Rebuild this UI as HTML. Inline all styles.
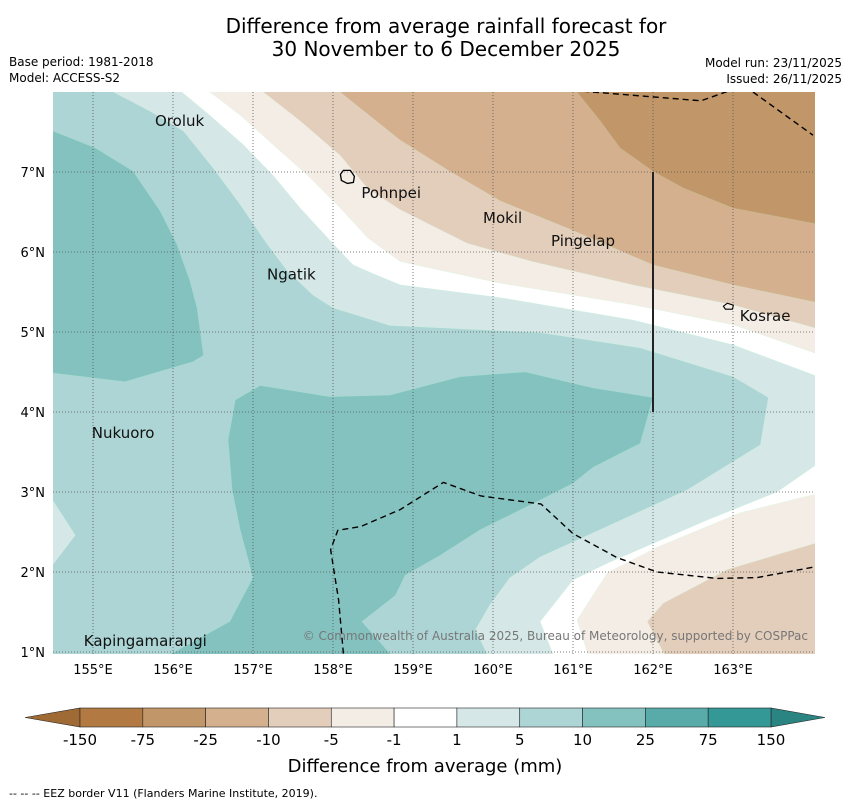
<!DOCTYPE html>
<html><head><meta charset="utf-8"><style>
body{margin:0;background:#fff;width:850px;height:804px;overflow:hidden;font-family:"Liberation Sans","DejaVu Sans",sans-serif}
</style></head><body>
<svg width="850" height="804" viewBox="0 0 850 804" style="font-family:'DejaVu Sans','Liberation Sans',sans-serif">
<text x="446" y="33" font-size="20" text-anchor="middle">Difference from average rainfall forecast for</text>
<text x="446" y="56" font-size="20" text-anchor="middle">30 November to 6 December 2025</text>
<text x="9" y="66" font-size="12">Base period: 1981-2018</text>
<text x="9" y="82" font-size="12">Model: ACCESS-S2</text>
<text x="842" y="67" font-size="12" text-anchor="end">Model run: 23/11/2025</text>
<text x="842" y="83" font-size="12" text-anchor="end">Issued: 26/11/2025</text>
<defs><clipPath id="mapclip"><rect x="53" y="92" width="762" height="562"/></clipPath></defs>
<g id="map" clip-path="url(#mapclip)"></g>
<g id="axes"></g>
<g id="cbar"></g>
<text x="425" y="772" font-size="18" text-anchor="middle">Difference from average (mm)</text>
<text x="9" y="797" font-size="11">--  --  -- EEZ border V11 (Flanders Marine Institute, 2019).</text>
</svg>
<script>
// ---- data ----
const colorLevels = ['-150','-75','-25','-10','-5','-1','1','5','10','25','75','150'];
const colorFills = ['#b27a42','#c19668','#d4b08e','#e3cebb','#f3ede6','#ffffff','#d5e8e7','#add5d5','#84c2c0','#58aba9','#339896'];
const lonTicks = [155,156,157,158,159,160,161,162,163];
const latTicks = [1,2,3,4,5,6,7];
// contour boundaries [lon,lat]
const b1 = [[155.25,8],[155.71,7.76],[156.13,7.51],[156.5,7.05],[156.84,6.59],[157.18,6.09],[157.43,5.76],[157.75,5.46],[158,5.3],[158.71,5.08],[160.59,4.99],[161.84,4.8],[163,4.44],[163.44,4.18],[163.34,3.59],[162.43,3.03],[160.59,2.19],[160.21,1.93],[159.96,1.59],[159.78,1.28],[159.96,0.9]];
const b2Upper = [[156.11,8],[156.46,7.71],[156.88,7.34],[157.25,6.96],[157.59,6.55],[157.93,6.18],[158.25,5.84],[158.55,5.71],[158.84,5.59],[160.09,5.43],[161.75,5.15],[163,4.84],[164.1,4.43]];
const b2Lower = [[164.1,3.38],[163.55,3],[162.68,2.65],[161.43,2.11],[161,1.9],[160.59,1.38],[160.78,0.9]];
const b3Upper = [[156.46,8],[156.84,7.71],[157.25,7.34],[157.68,6.96],[158.09,6.55],[158.43,6.18],[158.84,5.88],[160.09,5.61],[161.75,5.34],[163,5.09],[164.1,4.71]];
const b3Lower = [[164.1,2.99],[163.09,2.74],[162.05,2.31],[161.43,1.99],[161.05,1.4],[161.21,0.9]];
const b4Upper = [[157.13,8],[157.59,7.64],[158.09,7.21],[158.43,6.8],[158.84,6.53],[159.68,6.11],[160.5,5.88],[161.75,5.59],[163,5.34],[164.1,5.03]];
const b4Lower = [[164.1,2.38],[162.93,2.03],[162.13,1.61],[161.93,1.38],[162.18,0.9]];
const b5 = [[158.09,8],[158.84,7.4],[159.46,7.01],[160.09,6.64],[160.93,6.3],[162,5.84],[163,5.59],[164.1,5.36]];
const b6 = [[161.05,8],[161.34,7.64],[161.59,7.3],[162,7.01],[162.38,6.8],[163,6.55],[164.1,6.34]];
const wetLeft = [[154.4,7.55],[155.03,7.3],[155.5,7.01],[155.84,6.51],[156.05,6.09],[156.21,5.64],[156.3,5.3],[156.38,4.71],[156.25,4.63],[155.4,4.38],[154.4,4.5]];
const wetCentral = [[156.78,4.15],[157.09,4.33],[157.96,4.19],[158.71,4.21],[159.59,4.44],[160.4,4.5],[161.25,4.3],[162,4.18],[161.84,3.61],[161.25,3.31],[161,3.11],[160.59,2.9],[159.84,2.53],[159.34,2.21],[158.9,1.96],[158.78,1.71],[158.36,1.38],[158.78,0.9],[155.84,0.9],[156.71,1.38],[157,1.93],[156.84,2.53],[156.74,3.03],[156.69,3.65]];
const lightWest = [[154.4,3.05],[154.78,2.46],[154.4,1.96]];
const eezTop1 = [[161,8.02],[162.6,7.89],[163.05,8.05]];
const eezTop2 = [[163.25,8],[164,7.46]];
const eezBottom = [[158.13,0.98],[158.07,1.65],[157.97,2.28],[158.06,2.52],[158.35,2.57],[158.84,2.78],[159.38,3.12],[159.85,2.95],[160.6,2.85],[161,2.48],[161.55,2.18],[162.05,2],[162.8,1.92],[163.3,1.93],[164,2.06]];
const borderLine = [[162,7],[162,4]];
const islands = ['Oroluk','Pohnpei','Mokil','Pingelap','Ngatik','Kosrae','Nukuoro','Kapingamarangi'];
const islandLon = [155.75,158.33,159.85,160.7,157.15,163.06,154.96,154.86];
const islandLat = [7.7,6.8,6.49,6.2,5.78,5.26,3.8,1.2];

// ---- axes ----
const X = lon => 53 + (lon - 154.5) * 80;
const Y = lat => 92 + (8 - lat) * 80;
const NS = 'http://www.w3.org/2000/svg';
function mk(tag, attrs, parent){const e=document.createElementNS(NS,tag);for(const k in attrs)e.setAttribute(k,attrs[k]);parent.appendChild(e);return e;}
const pts = a => a.map(p => X(p[0]).toFixed(1)+','+Y(p[1]).toFixed(1)).join(' ');
const map = document.getElementById('map');
const TR=[164.1,8.1], BR=[164.1,0.9];
function poly(arr, fill, name){
  const e = mk('polygon',{points:pts(arr),fill:fill,stroke:'#9fb',"stroke-width":0.3,"stroke-opacity":0.4},map);
  
  
}
const bg = mk('rect',{x:53,y:92,width:762,height:562,fill:colorFills[7]},map);


poly(wetLeft, colorFills[8], 'contour-10-to-25-west');
poly(wetCentral, colorFills[8], 'contour-10-to-25-central');
poly(lightWest, colorFills[6], 'contour-1-to-5-west');
poly(b1.concat([BR,TR]), colorFills[6], 'contour-1-to-5');
poly(b2Upper.concat([TR]), colorFills[5], 'contour-neutral-north');
poly(b2Lower.concat([BR]), colorFills[5], 'contour-neutral-south');
poly(b3Upper.concat([TR]), colorFills[4], 'contour-minus5-to-minus1-north');
poly(b3Lower.concat([BR]), colorFills[4], 'contour-minus5-to-minus1-south');
poly(b4Upper.concat([TR]), colorFills[3], 'contour-minus10-to-minus5-north');
poly(b4Lower.concat([BR]), colorFills[3], 'contour-minus10-to-minus5-south');
poly(b5.concat([TR]), colorFills[2], 'contour-minus25-to-minus10');
poly(b6.concat([TR]), colorFills[1], 'contour-minus75-to-minus25');
// grid
lonTicks.forEach(l=>{const e=mk('line',{x1:X(l),x2:X(l),y1:92,y2:654,stroke:'#555',"stroke-width":0.8,"stroke-dasharray":"1,2"},map);

});
latTicks.forEach(l=>{const e=mk('line',{x1:53,x2:815,y1:Y(l),y2:Y(l),stroke:'#555',"stroke-width":0.8,"stroke-dasharray":"1,2"},map);

});
[eezTop1,eezTop2,eezBottom].forEach(a=>{const e=mk('polyline',{points:pts(a),fill:'none',stroke:'#000',"stroke-width":1.4,"stroke-dasharray":"6,4"},map);

});
const bl=mk('polyline',{points:pts(borderLine),fill:'none',stroke:'#222',"stroke-width":2},map);


// islands outlines
const pl=mk('path',{d:`M${X(158.13)} ${Y(7.02)} l-3 4 l1 6 l6 3 l6 -1 l1 -6 l-4 -6 z`,fill:'none',stroke:'#000',"stroke-width":1.3},map);


const kl=mk('path',{d:`M${X(162.93)} ${Y(5.36)} l-4 3 l2 3 l7 0 l1 -4 z`,fill:'none',stroke:'#000',"stroke-width":1.1},map);


islands.forEach((n,i)=>{
  const t=mk('text',{x:X(islandLon[i])+2,y:Y(islandLat[i])+10,"font-size":15,fill:'#111'},map);
  t.textContent=n;
  
  
});
const cp=mk('text',{x:808,y:640,"font-size":12,fill:'#777',"text-anchor":'end'},map);
cp.textContent='© Commonwealth of Australia 2025, Bureau of Meteorology, supported by COSPPac';


// axis labels
const axes=document.getElementById('axes');
lonTicks.forEach(l=>{const t=mk('text',{x:X(l),y:674,"font-size":13,"text-anchor":'middle'},axes);t.textContent=l+'°E';

});
latTicks.forEach(l=>{const t=mk('text',{x:45,y:Y(l)+5,"font-size":13,"text-anchor":'end'},axes);t.textContent=l+'°N';

});
// colorbar
const cb=document.getElementById('cbar');
const c0=80,cw=(771-80)/11, cy=708, ch=19;
const la=mk('polygon',{points:`${c0},${cy} ${c0},${cy+ch} 25,${cy+ch/2}`,fill:'#a06a34',stroke:'#222',"stroke-width":0.6},cb);


const ra=mk('polygon',{points:`771,${cy} 771,${cy+ch} 825,${cy+ch/2}`,fill:'#2a8582',stroke:'#222',"stroke-width":0.6},cb);


colorFills.forEach((c,i)=>{const r=mk('rect',{x:c0+i*cw,y:cy,width:cw,height:ch,fill:c,stroke:'#222',"stroke-width":0.6},cb);

});
colorLevels.forEach((v,i)=>{const t=mk('text',{x:c0+i*cw,y:745,"font-size":15,"text-anchor":'middle'},cb);t.textContent=v;

});
</script>
</body></html>
